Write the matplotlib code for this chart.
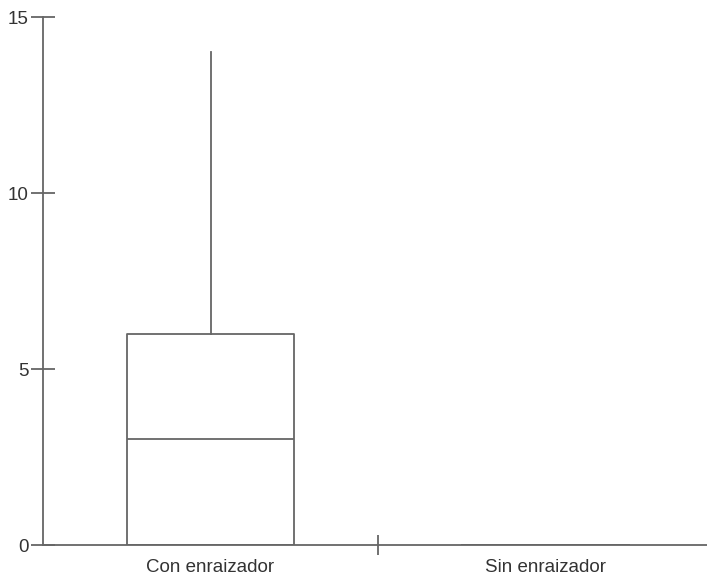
import matplotlib
matplotlib.use("Agg")
import matplotlib.pyplot as plt
from matplotlib.ticker import FixedLocator, NullFormatter

# box summary per group
groups = ["Con enraizador", "Sin enraizador"]
q1 = [0, 0]
med = [3, 0]
q3 = [6, 0]
whis_lo = [0, 0]
whis_hi = [14, 0]
yticks = [0, 5, 10, 15]

line_col = "#666666"
text_col = "#333333"

plt.rcParams["font.family"] = ["Liberation Sans", "DejaVu Sans"]

fig = plt.figure(figsize=(7.07, 5.79), dpi=100)
W, H = 707, 579
ax = fig.add_axes([43 / W, 34 / H, 670 / W, 528 / H])

stats = []
for i, g in enumerate(groups):
    stats.append(dict(label=g, q1=q1[i], med=med[i], q3=q3[i],
                      whislo=whis_lo[i], whishi=whis_hi[i], fliers=[]))

pos = [i + 0.5 for i in range(len(groups))]
style = dict(color=line_col, linewidth=1.3)
ax.bxp(stats, positions=pos, widths=0.5, showcaps=False, showfliers=False,
       boxprops=style, medianprops=style, whiskerprops=style,
       manage_ticks=False)

ax.set_xlim(0, len(groups))
ax.set_ylim(0, 15)

for s in ["top", "right"]:
    ax.spines[s].set_visible(False)
for s in ["left", "bottom"]:
    ax.spines[s].set_color(line_col)
    ax.spines[s].set_linewidth(1.3)

ax.set_yticks(yticks)
ax.tick_params(axis="y", direction="inout", length=17.3, width=1.3,
               color=line_col, labelcolor=text_col, labelsize=13.5, pad=1.5)

# band boundary ticks on x, labels centred in each band
ax.xaxis.set_major_locator(FixedLocator(list(range(1, len(groups)))))
ax.xaxis.set_major_formatter(NullFormatter())
ax.xaxis.set_minor_locator(FixedLocator(pos))
ax.set_xticklabels(groups, minor=True)
ax.tick_params(axis="x", which="major", direction="inout", length=14.4,
               width=1.3, color=line_col)
ax.tick_params(axis="x", which="minor", length=0, pad=10,
               labelcolor=text_col, labelsize=13.5)

fig.savefig("out.png", dpi=100)
